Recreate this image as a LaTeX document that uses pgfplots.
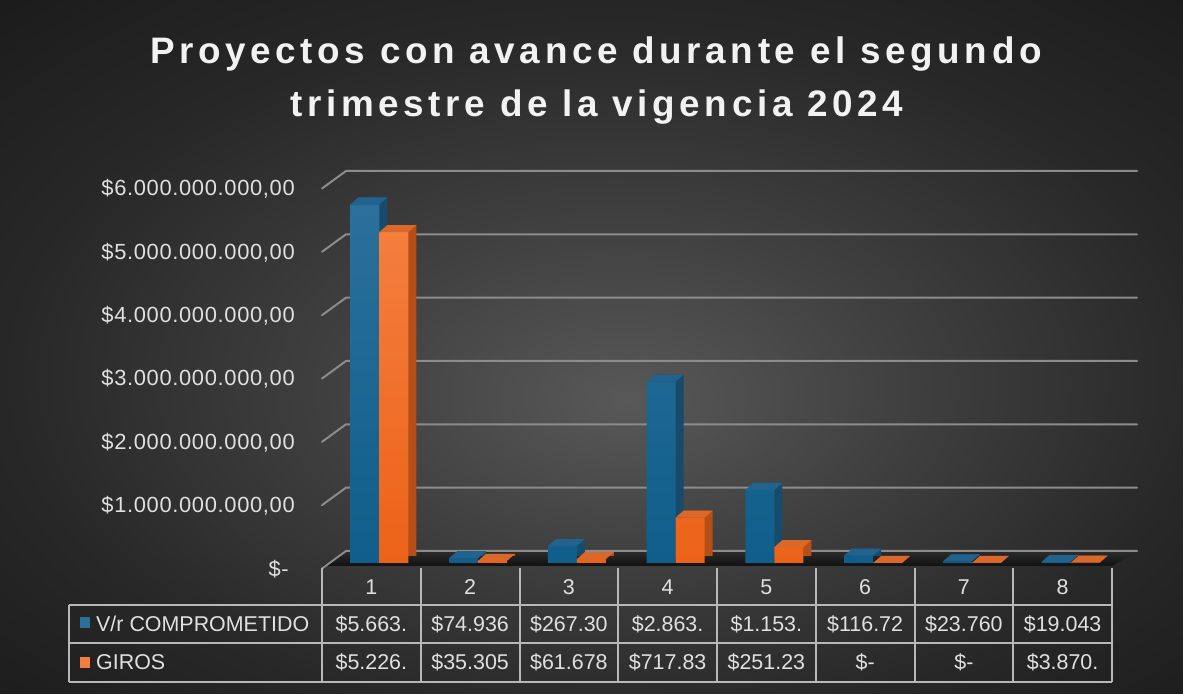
\documentclass[border=0pt]{standalone}
\usepackage{pgfplots}
\pgfplotsset{compat=1.18}
\usepackage{fontspec}
\setmainfont{Liberation Sans}
\newfontfamily\titlefont{Liberation Sans}[LetterSpace=12.5]
\newfontfamily\ylabfont{Liberation Sans}[LetterSpace=3]

\definecolor{bgA}{HTML}{585858}
\definecolor{bgB}{HTML}{404040}
\definecolor{bgC}{HTML}{282828}
\definecolor{bgD}{HTML}{1C1C1C}
\definecolor{gridc}{HTML}{8C8C8C}
\definecolor{tablec}{HTML}{B8B8B8}
\definecolor{txtc}{HTML}{E0E0E0}
\definecolor{titlec}{HTML}{F2F2F2}
\definecolor{blueTop}{HTML}{2B709C}
\definecolor{blueBot}{HTML}{0F5E8B}
\definecolor{blueSide}{HTML}{174B6C}
\definecolor{blueLid}{HTML}{21638E}
\definecolor{orTop}{HTML}{F47E3E}
\definecolor{orBot}{HTML}{EC6218}
\definecolor{orSide}{HTML}{B54E17}
\definecolor{orLid}{HTML}{D9682A}
\definecolor{floorA}{HTML}{111111}
\definecolor{floorB}{HTML}{2C2C2C}

\pgfdeclareradialshading{bgshade}{\pgfpoint{1.5bp}{-4bp}}{color(0bp)=(bgA); color(12bp)=(bgB); color(25bp)=(bgC); color(36bp)=(bgD); color(50bp)=(bgD)}

\pgfdeclareplotmark{lidB}{\pgfpathmoveto{\pgfpoint{-21bp}{0bp}}\pgfpathlineto{\pgfpoint{8bp}{0bp}}\pgfpathlineto{\pgfpoint{16bp}{7bp}}\pgfpathlineto{\pgfpoint{-13bp}{7bp}}\pgfpathclose\pgfusepathqfill}
\pgfdeclareplotmark{lidO}{\pgfpathmoveto{\pgfpoint{8bp}{0bp}}\pgfpathlineto{\pgfpoint{37bp}{0bp}}\pgfpathlineto{\pgfpoint{45bp}{7bp}}\pgfpathlineto{\pgfpoint{16bp}{7bp}}\pgfpathclose\pgfusepathqfill}

\pgfplotstableread{
x  comp       giros
1  5.663e9    5.226e9
2  74.936e6   35.305e6
3  267.30e6   61.678e6
4  2.863e9    717.83e6
5  1.153e9    251.23e6
6  116.72e6   0
7  23.760e6   0
8  19.043e6   3.870e6
}\datatable

\begin{document}
\begin{tikzpicture}[x=1bp,y=1bp]
\shade[shading=bgshade] (0,0) rectangle (1183,694);

% title
\node[anchor=base, text=titlec, font=\titlefont\bfseries\fontsize{37}{37}\selectfont, inner sep=0pt] at (596,630) {Proyectos con avance durante el segundo};
\node[anchor=base, text=titlec, font=\titlefont\bfseries\fontsize{37}{37}\selectfont, inner sep=0pt] at (597,577) {trimestre de la vigencia 2024};

\begin{axis}[at={(322bp,131bp)}, anchor=south west, scale only axis,
  width=790bp, height=380bp, xmin=0.5, xmax=8.5, ymin=0, ymax=6e9,
  hide axis, clip=false]
  % floor
  \shade[top color=floorB, bottom color=floorA]
    ([yshift=-3bp]axis cs:0.5,0) -- ([yshift=-3bp]axis cs:8.5,0) --
    ([xshift=25bp,yshift=12bp]axis cs:8.5,0) -- ([xshift=24bp,yshift=12bp]axis cs:0.5,0) -- cycle;
  % back-wall gridlines
  \pgfplotsinvokeforeach{0,1,2,3,4,5,6}{
    \draw[gridc, line width=2bp, line cap=round]
      ([yshift=-5.5bp]axis cs:0.5,#1e9) -- ([xshift=24bp,yshift=12bp]axis cs:0.5,#1e9)
      -- ([xshift=25bp,yshift=12bp]axis cs:8.5,#1e9);
  }
  % y labels
  \pgfplotsinvokeforeach{1,2,3,4,5,6}{
    \node[anchor=east, text=txtc, font=\ylabfont\fontsize{22}{22}\selectfont, inner sep=0pt]
      at ([xshift=-27bp,yshift=-6bp]axis cs:0.5,#1e9) {\$#1.000.000.000,00};
  }
  \node[anchor=east, text=txtc, font=\ylabfont\fontsize{22}{22}\selectfont, inner sep=0pt]
      at ([xshift=-33bp,yshift=-6bp]axis cs:0.5,0) {\$-};

  % V/r COMPROMETIDO
  \addplot[ybar, bar width=29bp, bar shift=-6.5bp, draw=none, fill=blueSide, xshift=8bp, yshift=7bp]
    table[x=x, y=comp] {\datatable};
  \addplot[only marks, mark=lidB, mark options={fill=blueLid, draw=none}]
    table[x=x, y=comp] {\datatable};
  \addplot[ybar, bar width=29bp, bar shift=-6.5bp, draw=none, top color=blueTop, bottom color=blueBot]
    table[x=x, y=comp] {\datatable};
  % GIROS
  \addplot[ybar, bar width=29bp, bar shift=22.5bp, draw=none, fill=orSide, xshift=8bp, yshift=7bp]
    table[x=x, y=giros] {\datatable};
  \addplot[only marks, mark=lidO, mark options={fill=orLid, draw=none}]
    table[x=x, y=giros] {\datatable};
  \addplot[ybar, bar width=29bp, bar shift=22.5bp, draw=none, top color=orTop, bottom color=orBot]
    table[x=x, y=giros] {\datatable};
\end{axis}

% data table
\begin{scope}[tablec, line width=2bp]
  \draw (69,89) -- (1112,89);
  \draw (69,51) -- (1112,51);
  \draw (69,12) -- (1112,12);
  \draw (69,89) -- (69,12);
  \foreach \k in {0,...,8} { \draw ({322+98.75*\k},126) -- ({322+98.75*\k},12); }
\end{scope}
\fill[blueTop] (80,66) rectangle (90,77);
\fill[orTop] (80,26) rectangle (90,37);
\begin{scope}[every node/.style={text=txtc, font=\fontsize{21.5}{21.5}\selectfont, inner sep=0pt}]
  \node[anchor=base west] at (96,62.5) {V/r COMPROMETIDO};
  \node[anchor=base west] at (96,24) {GIROS};
  \foreach \k/\t in {1/1,2/2,3/3,4/4,5/5,6/6,7/7,8/8} {
    \node[anchor=base] at ({322+98.75*(\k-0.5)},99) {\t};
  }
  \foreach \k/\t in {1/{\$5.663.},2/{\$74.936},3/{\$267.30},4/{\$2.863.},5/{\$1.153.},6/{\$116.72},7/{\$23.760},8/{\$19.043}} {
    \node[anchor=base] at ({322+98.75*(\k-0.5)},62.5) {\t};
  }
  \foreach \k/\t in {1/{\$5.226.},2/{\$35.305},3/{\$61.678},4/{\$717.83},5/{\$251.23},6/{\$-},7/{\$-},8/{\$3.870.}} {
    \node[anchor=base] at ({322+98.75*(\k-0.5)},24) {\t};
  }
\end{scope}
\useasboundingbox (0,0) rectangle (1183,694);
\end{tikzpicture}
\end{document}
